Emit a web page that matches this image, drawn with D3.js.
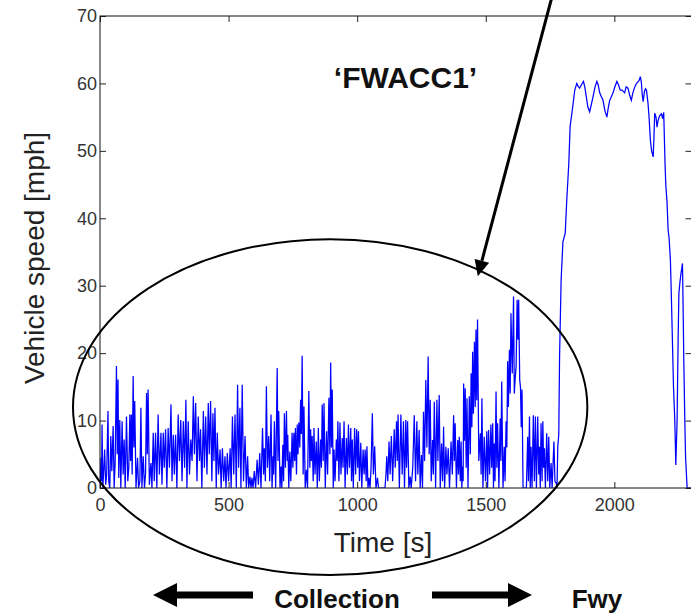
<!DOCTYPE html>
<html>
<head>
<meta charset="utf-8">
<script src="https://d3js.org/d3.v7.min.js"></script>
<style>
  body { margin: 0; background: #fff; }
  svg { display: block; }
  .tick text { font-family: Arial, "Liberation Sans", sans-serif; font-size: 18px; fill: #333; }
  .tick line { stroke: #222; }
</style>
</head>
<body>
<div id="chart"></div>
<script>
// speed trace, stop-and-go part (time s, speed mph)
const collectionTrace = [
  [0,0],[4,4.5],[6,1],[8,9.4],[11,0],[15,3],[18,5.7],[22,0.5],[26,2],[31,11.4],[34,1],[38,0],[42,7.7],[46,2.5],[51,9.2],[55,0],[59,4],[64,18.1],[67,5],[70,16.1],[73,1.5],[77,10.1],[81,0],[86,9.9],[90,2],[94,7.2],[98,0],
  [103,10.6],[108,1],[112,3],[116,10.9],[119,4],[122,10.9],[125,2],[129,16.6],[132,6],[135,12.9],[140,0],[146,4.5],[150,0],[155,1],[159,11.9],[163,0],[168,4.7],[173,0],[177,2],[181,14.1],[184,5],[187,14.6],[192,0.5],[198,3.7],
  [202,0],[207,8.2],[211,1],[216,8.2],[221,0],[226,10.9],[231,2],[237,8.2],[241,0.5],[246,8.2],[250,3],[255,8.7],[260,0],[265,8.9],[270,3],[276,12.4],[280,1],[285,7.9],[289,2],[294,7.9],[299,0],
  [304,10.9],[309,4],[314,10.1],[319,1],[324,9.9],[329,3],[334,13.1],[338,0],[343,9.9],[348,2],[353,7.2],[358,4],[363,13.6],[367,5],[372,12.6],[377,1],[382,10.6],[387,4],[391,8.7],[396,0],
  [402,11.4],[406,3],[411,10.6],[416,2],[421,12.6],[425,5],[430,12.9],[435,1],[439,11.1],[443,4],[447,11.9],[452,0],[456,8.2],[461,2],[467,5.7],[471,0],[476,5.9],[481,1],[486,4.7],[490,0],[495,5.2],
  [500,1],[506,5.9],[510,0],[515,10.6],[520,2],[525,10.9],[530,0],[535,15.3],[539,3],[544,11.9],[548,0],[553,15.3],[558,1],[564,7.7],[569,0],[574,4.7],[578,0],[583,1.7],[587,0],
  [591,1.5],[595,0],[600,2.5],[605,0],[611,4.2],[616,0.5],[621,5.2],[626,0],[632,8.9],[636,2],[639,5.9],[643,1],[647,15.1],[651,3],[656,7.7],[660,1],[665,10.9],[669,0],[673,4.7],[675,2],[678,9.9],[683,0],[689,17.8],[692,4],[695,11.4],
  [700,0],[704,3.2],[707,0],[711,6.4],[714,1],[717,11.1],[721,3],[725,11.4],[728,4],[730,7.9],[734,0],[738,5.4],[742,1],[747,8.2],[750,3],[754,8.2],[757,4],[760,8.9],[764,2],[767,9.4],[770,5],[773,9.7],[777,6],[780,13.1],[783,8],[786,19.6],[790,2],[793,12.1],[798,0],
  [803,2.7],[807,0],[812,14.4],[816,3],[819,8.7],[822,4],[825,7.7],[829,1],[832,8.9],[836,2],[841,6.9],[845,0],[849,8.9],[853,1],[858,7.2],[861,3],[864,12.4],[868,4],[871,12.6],[876,0],[881,8.4],[885,2],[890,13.4],[894,5],[897,18.6],
  [900,6],[903,14.6],[907,0],[910,5.7],[914,1],[919,7.2],[922,4],[925,9.9],[929,1],[933,9.7],[937,2],[942,7.4],[945,3],[949,9.9],[953,0],[958,7.4],[962,2],[966,9.4],[970,3],[975,8.9],[978,1],[981,7.2],[985,0],[990,8.9],[994,2],[998,8.7],
  [1002,3],[1005,8.4],[1009,1],[1014,6.7],[1018,0],[1023,5.7],[1027,2],[1031,5.7],[1035,1],[1038,6.2],[1042,0],[1046,1.5],[1050,0],[1054,3],[1059,11.1],[1063,2],[1068,6.2],[1073,0],[1079,1.5],[1083,0],
  [1108,0],[1112,2],[1115,4.7],[1119,1],[1124,6.9],[1128,2],[1133,7.7],[1138,1],[1144,8.7],[1148,3],[1153,9.9],[1156,4],[1159,10.9],[1164,0],[1170,10.9],[1175,2],[1180,9.9],[1184,0],
  [1189,10.1],[1192,3],[1196,9.9],[1201,0],[1206,1.7],[1210,0],[1216,3],[1222,10.8],[1227,1],[1232,9.9],[1236,2],[1241,8.6],[1245,0],[1250,4.9],[1254,0],[1258,11.3],[1262,4],[1267,16.0],[1271,6],[1276,19.5],[1280,5],[1284,13.1],[1288,1],[1293,7.1],[1296,2],
  [1300,12.8],[1305,0],[1310,13.1],[1314,4],[1319,13.8],[1323,0],[1328,6.6],[1332,1],[1336,9.1],[1340,0],[1345,6.1],[1349,2],[1354,5.9],[1359,0],[1365,6.9],[1370,2],[1375,10.8],[1378,4],[1381,9.6],[1386,0],[1391,7.1],[1394,2],[1397,7.6],
  [1401,1],[1404,6.9],[1407,0],[1410,3.2],[1412,1],[1414,15.5],[1417,7],[1420,14.8],[1424,3],[1427,13.3],[1431,0],[1436,13.6],[1440,5],[1443,17.0],[1446,9],[1449,20.2],[1452,11],[1456,21.7],[1459,12],[1462,23.5],[1465,13],[1468,25.0],[1473,4],[1479,8.1],[1482,2],[1485,13.3],[1489,0],[1494,7.6],[1499,1],
  [1504,8.4],[1507,0],[1511,8.6],[1515,2],[1520,9.4],[1523,3],[1527,9.6],[1530,0],[1533,6.6],[1536,1],[1540,14.3],[1543,3],[1546,9.6],[1551,0],[1556,10.3],[1559,4],[1562,15.8],[1567,0],[1572,6.1],[1575,1],[1579,9.9],[1582,6],[1585,18.8],[1588,12],[1592,20.5],[1595,14],[1598,25.9],
  [1603,17],[1608,28.4],[1611,14],[1614,16.0],[1618,18],[1622,27.9],[1625,22],[1628,27.9],[1632,16],[1635,15.0],[1638,9],[1641,14.6],[1645,0],[1658,0],[1663,7.6],[1666,1],[1670,10.6],[1673,0],[1676,6.1],[1680,0],[1685,10.8],[1689,1],[1693,10.6],[1697,0],
  [1702,10.6],[1706,2],[1709,6.1],[1712,0],[1715,9.6],[1719,1],[1722,9.9],[1725,3],[1728,5.9],[1732,0],[1737,8.1],[1741,1],[1745,7.6],[1749,0],[1754,3.7],[1758,0],[1765,6.9],[1769,1],[1774,0.7]
];

// speed trace, freeway part
const freewayTrace = [
  [1777,0],[1780,6.1],[1784,8],[1787,19.5],[1793,30.8],[1800,36.5],[1809,37.8],[1815,42.7],[1823,48.2],[1828,53.6],[1838,56.5],[1846,59],[1854,60],[1859,59.6],[1865,59.3],[1872,59.8],[1880,60.3],[1885,59.5],[1891,58],[1897,56.5],
  [1904,55.8],[1910,56.8],[1917,58],[1925,59.5],[1932,60.3],[1937,59.8],[1943,58.6],[1950,58],[1956,57.5],[1963,56],[1971,55],[1976,56.3],[1982,57.5],[1988,58],[1995,58.6],
  [2002,59.5],[2010,60.3],[2016,59.8],[2023,59],[2030,59],[2040,58.6],[2046,59.5],[2053,59.3],[2060,58.2],[2066,57.5],[2072,58.6],[2078,59.3],[2083,59.8],[2090,60.2],[2096,60.4],
  [2101,61],[2105,60.2],[2108,58.5],[2112,57.3],[2117,58.8],[2121,59.2],[2125,59],[2131,57],[2135,55],[2140,51.6],[2145,50],[2151,49.1],[2154,52],[2157,55.6],[2162,55],[2166,53.5],[2170,54.5],[2176,55.2],[2183,55.5],[2188,54.8],[2192,55.7],[2197,48.2],
  [2200,45],[2205,42.3],[2209,38.3],[2213,37],[2218,33.8],[2222,28],[2226,21.5],[2230,15],[2235,10.1],[2239,3.4],[2244,10.1],[2248,22],[2251,28.9],[2255,30.5],[2259,31.8],[2262,32.5],[2265,33.3],[2268,25],[2270,19],[2274,10],[2277,4.5],[2283,0],[2300,0]
];

const xTicks = [0, 500, 1000, 1500, 2000];
const yTicks = [0, 10, 20, 30, 40, 50, 60, 70];

const W = 691, H = 613;
const margin = {top: 16, left: 100, bottom: 125};

const svg = d3.select("#chart").append("svg")
    .attr("width", W)
    .attr("height", H);

const x = d3.scaleLinear().domain([0, 2300]).range([margin.left, 691.5]);
const y = d3.scaleLinear().domain([0, 70]).range([H - margin.bottom, margin.top]);

svg.append("clipPath").attr("id", "plotclip")
  .append("rect")
    .attr("x", x(0)).attr("y", y(70))
    .attr("width", x(2300) - x(0)).attr("height", y(0) - y(70));

// trace
const line = d3.line().x(d => x(d[0])).y(d => y(d[1]));
const trace = collectionTrace.concat(freewayTrace);

svg.append("path")
    .datum(trace)
    .attr("clip-path", "url(#plotclip)")
    .attr("fill", "none")
    .attr("stroke", "#0000ff")
    .attr("stroke-width", 1.25)
    .attr("d", line);

// axes, matlab style ticks pointing inward on all sides
const plotH = y(0) - y(70), plotW = x(2300) - x(0);
const fmt = d3.format("d");

svg.append("g")
    .attr("transform", "translate(0," + y(0) + ")")
    .call(d3.axisBottom(x).tickValues(xTicks).tickFormat(fmt).tickSize(-6).tickSizeOuter(0).tickPadding(10))
    .call(g => g.select(".domain").remove());

svg.append("g")
    .attr("transform", "translate(0," + y(70) + ")")
    .call(d3.axisTop(x).tickValues(xTicks).tickSize(-6).tickSizeOuter(0).tickFormat(""))
    .call(g => g.select(".domain").remove());

svg.append("g")
    .attr("transform", "translate(" + x(0) + ",0)")
    .call(d3.axisLeft(y).tickValues(yTicks).tickFormat(fmt).tickSize(-6).tickSizeOuter(0).tickPadding(3))
    .call(g => g.select(".domain").remove());

svg.append("g")
    .attr("transform", "translate(" + x(2300) + ",0)")
    .call(d3.axisRight(y).tickValues(yTicks).tickSize(-6).tickSizeOuter(0).tickFormat(""))
    .call(g => g.select(".domain").remove());

svg.append("rect")
    .attr("x", x(0)).attr("y", y(70))
    .attr("width", plotW).attr("height", plotH)
    .attr("fill", "none")
    .attr("stroke", "#111")
    .attr("stroke-width", 1);

// axis labels
svg.append("text")
    .attr("transform", "translate(43.5," + (y(70) + plotH / 2 + 6) + ")rotate(-90)")
    .attr("text-anchor", "middle")
    .style("font-family", "Arial, 'Liberation Sans', sans-serif")
    .style("font-size", "28px")
    .style("fill", "#222")
    .text("Vehicle speed [mph]");

svg.append("text")
    .attr("x", 383)
    .attr("y", 552)
    .attr("text-anchor", "middle")
    .style("font-family", "Arial, 'Liberation Sans', sans-serif")
    .style("font-size", "28px")
    .style("fill", "#222")
    .text("Time [s]");

// title inside plot
svg.append("text")
    .attr("x", 405.5)
    .attr("y", 88)
    .attr("text-anchor", "middle")
    .style("font-family", "Arial, 'Liberation Sans', sans-serif")
    .style("font-size", "30px")
    .style("font-weight", "bold")
    .style("fill", "#111")
    .text("\u2018FWACC1\u2019");

// ellipse around the collection part (data units)
svg.append("ellipse")
    .attr("cx", x(895))
    .attr("cy", y(12))
    .attr("rx", x(1000) - x(0))
    .attr("ry", y(0) - y(24.9))
    .attr("fill", "none")
    .attr("stroke", "#000")
    .attr("stroke-width", 2);

// pointer arrow coming from above
const p0 = [x(1762), y(73.5)], p1 = [x(1469), y(31.4)];
const dx = p1[0] - p0[0], dy = p1[1] - p0[1], len = Math.hypot(dx, dy);
const ux = dx / len, uy = dy / len;
const headL = 16, headW = 7.5;
const base = [p1[0] - ux * headL, p1[1] - uy * headL];

svg.append("line")
    .attr("x1", p0[0]).attr("y1", p0[1])
    .attr("x2", base[0]).attr("y2", base[1])
    .attr("stroke", "#000")
    .attr("stroke-width", 3);

svg.append("path")
    .attr("d", "M" + p1[0] + "," + p1[1] +
               "L" + (base[0] - uy * headW) + "," + (base[1] + ux * headW) +
               "L" + (base[0] + uy * headW) + "," + (base[1] - ux * headW) + "Z")
    .attr("fill", "#000");

// bottom annotations
const ay = 595;
svg.append("path")
    .attr("d", "M153," + ay + "L177," + (ay - 12) + "L177," + (ay - 3.5) + "L253," + (ay - 3.5) +
               "L253," + (ay + 3.5) + "L177," + (ay + 3.5) + "L177," + (ay + 12) + "Z")
    .attr("fill", "#000");

svg.append("path")
    .attr("d", "M532," + ay + "L508," + (ay - 12) + "L508," + (ay - 3.5) + "L432," + (ay - 3.5) +
               "L432," + (ay + 3.5) + "L508," + (ay + 3.5) + "L508," + (ay + 12) + "Z")
    .attr("fill", "#000");

svg.append("text")
    .attr("x", 337)
    .attr("y", 608)
    .attr("text-anchor", "middle")
    .style("font-family", "Arial, 'Liberation Sans', sans-serif")
    .style("font-size", "26px")
    .style("font-weight", "bold")
    .style("fill", "#111")
    .text("Collection");

svg.append("text")
    .attr("x", 597)
    .attr("y", 608)
    .attr("text-anchor", "middle")
    .style("font-family", "Arial, 'Liberation Sans', sans-serif")
    .style("font-size", "26px")
    .style("font-weight", "bold")
    .style("fill", "#111")
    .text("Fwy");
</script>
</body>
</html>
